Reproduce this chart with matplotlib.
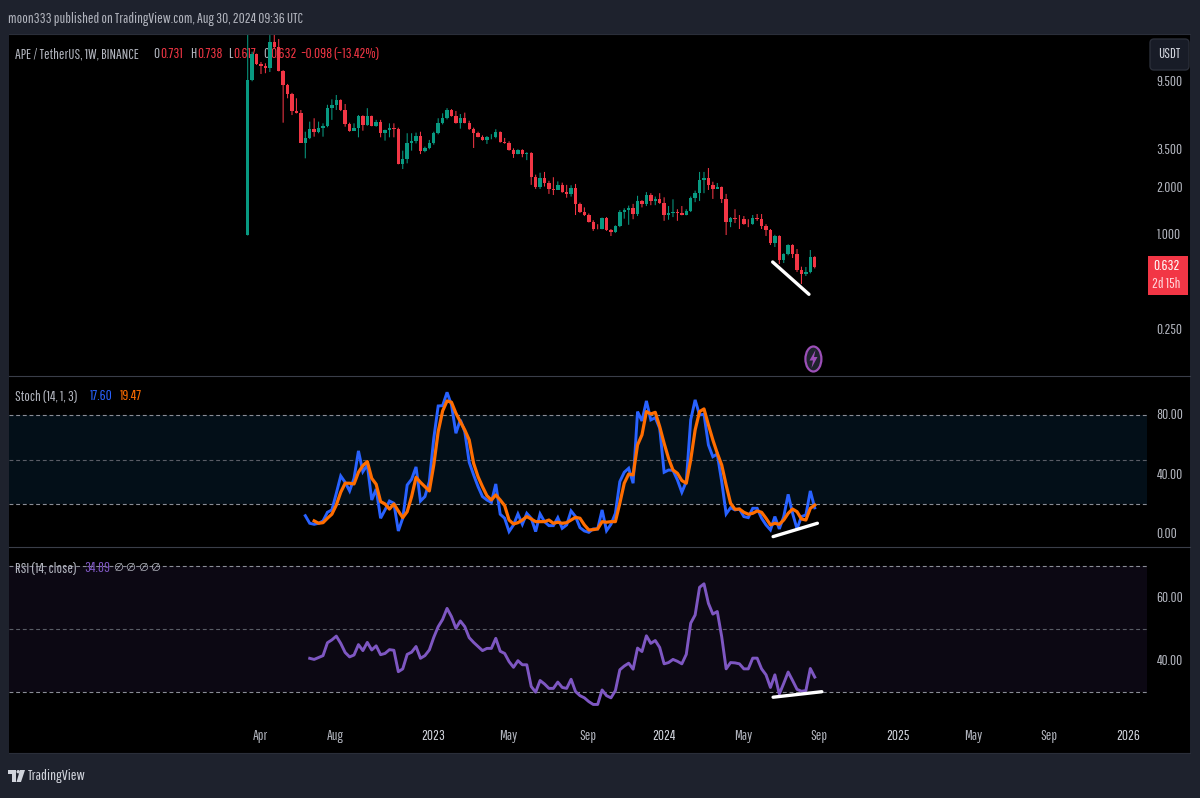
import matplotlib
matplotlib.use("Agg")
import matplotlib.pyplot as plt
import matplotlib.dates as mdates
import pandas as pd
from matplotlib.lines import Line2D
from matplotlib.patches import Ellipse, FancyBboxPatch, Polygon, Rectangle

# weekly APE/USDT candles
first_open = 1.00
closes = [9.78, 14.33, 12.37, 12.01, 11.61, 17.08, 15.80, 11.21, 9.09, 7.97, 6.21, 6.06, 3.90,
          4.16, 4.75, 4.58, 4.84, 4.96, 6.49, 6.78, 7.30, 6.30, 5.13, 4.63, 4.84, 5.77, 5.06,
          5.77, 4.98, 5.28, 4.52, 4.70, 4.82, 4.77, 2.85, 3.07, 3.90, 4.02, 4.30, 3.45, 3.61,
          3.90, 4.50, 5.21, 5.60, 6.30, 5.77, 5.21, 5.60, 5.23, 4.75, 4.52, 4.26, 4.06, 4.24,
          4.25, 4.56, 3.94, 3.88, 3.50, 3.30, 3.50, 3.30, 3.35, 2.37, 2.03, 2.32, 2.15, 1.97,
          1.95, 2.10, 1.89, 1.84, 2.01, 1.59, 1.41, 1.345, 1.22, 1.10, 1.094, 1.29, 1.084, 1.05,
          1.15, 1.41, 1.45, 1.50, 1.37, 1.66, 1.59, 1.81, 1.66, 1.71, 1.61, 1.35, 1.39, 1.41,
          1.39, 1.35, 1.43, 1.73, 1.86, 2.26, 2.32, 2.10, 1.98, 2.04, 1.71, 1.22, 1.29, 1.28,
          1.27, 1.18, 1.177, 1.29, 1.27, 1.15, 1.084, 0.896, 0.993, 0.698, 0.762, 0.870, 0.762,
          0.603, 0.569, 0.586, 0.731, 0.632]
highs = [39.4, 14.8, 14.4, 12.74, 12.5, 18.9, 19.2, 17.85, 11.3, 9.23, 8.10, 7.48, 6.3, 4.58,
         5.31, 5.58, 5.31, 5.18, 6.8, 7.36, 7.85, 7.36, 6.88, 5.23, 5.18, 5.85, 5.83, 6.47,
         5.80, 5.45, 5.45, 4.72, 5.18, 5.18, 4.86, 3.47, 4.48, 4.48, 4.52, 4.58, 3.68, 4.06,
         4.58, 5.58, 6.0, 6.47, 6.38, 6.21, 5.94, 6.06, 5.38, 4.86, 4.58, 4.34, 4.30, 4.42,
         4.75, 4.60, 4.18, 3.98, 3.59, 3.54, 3.54, 3.39, 3.39, 2.44, 2.51, 2.54, 2.23, 2.35,
         2.21, 2.17, 2.10, 2.09, 2.13, 1.62, 1.51, 1.38, 1.25, 1.18, 1.30, 1.31, 1.10, 1.16,
         1.45, 1.49, 1.55, 1.59, 1.79, 1.68, 1.89, 1.86, 1.77, 1.86, 1.75, 1.54, 1.70, 1.47,
         1.54, 1.47, 1.77, 1.93, 2.54, 2.54, 2.69, 2.20, 2.16, 2.05, 1.84, 1.31, 1.47, 1.35,
         1.33, 1.27, 1.35, 1.37, 1.37, 1.18, 1.10, 1.01, 1.003, 0.770, 0.879, 0.879, 0.820,
         0.633, 0.630, 0.808, 0.738]
lows = [1.00, 9.6, 12.2, 10.68, 10.8, 11.0, 15.6, 11.1, 5.23, 7.48, 5.85, 5.99, 3.88, 3.10,
        4.11, 4.26, 4.48, 4.26, 4.89, 5.45, 6.30, 6.2, 4.93, 4.58, 4.63, 4.22, 4.65, 5.0,
        4.96, 4.93, 4.22, 4.02, 4.22, 4.22, 2.84, 2.65, 2.88, 3.47, 3.86, 3.30, 3.39, 3.54,
        3.79, 4.41, 5.10, 5.49, 5.72, 5.16, 4.79, 5.18, 4.70, 3.61, 4.22, 4.02, 3.83, 4.10,
        4.16, 3.90, 3.84, 3.47, 3.12, 3.29, 3.15, 3.02, 2.10, 1.98, 1.98, 2.05, 1.84, 1.81,
        1.95, 1.87, 1.74, 1.77, 1.35, 1.39, 1.33, 1.21, 1.07, 1.095, 1.095, 1.07, 0.993, 1.04,
        1.13, 1.28, 1.17, 1.27, 1.33, 1.51, 1.54, 1.56, 1.56, 1.59, 1.24, 1.26, 1.31, 1.24,
        1.345, 1.345, 1.41, 1.63, 1.66, 1.86, 1.95, 1.71, 1.98, 1.61, 1.007, 1.13, 1.20, 1.10,
        1.17, 1.13, 1.17, 1.24, 1.10, 0.993, 0.870, 0.845, 0.658, 0.668, 0.748, 0.719, 0.586,
        0.491, 0.552, 0.574, 0.617]

# stochastic, %K from week 13, %D from week 15
stoch_k = [12.3, 7.2, 6.5, 7.2, 8.8, 14.6, 16.2, 27.4, 39.1, 34.8, 29.0, 37.5, 56.0, 42.0, 46.5,
           22.9, 30.3, 10.6, 16.2, 22.2, 20.7, 2.0, 10.6, 33.0, 36.9, 45.2, 22.2, 25.2, 35.3,
           64.5, 86.3, 86.5, 95.5, 87.0, 67.9, 76.9, 69.0, 48.3, 39.8, 31.9, 25.2, 22.9, 21.3,
           33.7, 13.3, 10.6, 1.6, 6.1, 13.5, 6.5, 13.9, 10.6, 1.6, 13.5, 8.3, 5.6, 5.6, 11.0,
           3.8, 6.1, 15.5, 11.7, 4.3, 2.0, 1.1, 3.4, 3.4, 16.2, 2.2, 6.5, 13.9, 35.3, 41.6,
           44.3, 34.2, 82.5, 76.2, 89.7, 76.9, 78.4, 71.2, 41.6, 43.1, 42.9, 36.4, 28.1, 35.3,
           76.9, 90.4, 80.2, 80.7, 60.0, 52.1, 53.9, 35.3, 13.5, 17.7, 16.2, 16.8, 11.7, 11.0,
           17.3, 17.3, 10.6, 6.1, 2.7, 11.7, 3.4, 11.7, 26.7, 13.9, 3.4, 11.7, 12.8, 29.0, 17.60]
stoch_d = [8.8, 7.2, 7.6, 10.6, 13.3, 19.5, 28.1, 34.2, 34.2, 33.7, 41.6, 46.1, 48.8, 37.5, 33.5,
           21.8, 20.2, 16.8, 20.2, 15.5, 11.0, 15.0, 25.2, 38.2, 34.8, 31.9, 29.0, 46.5, 69.0,
           82.9, 89.7, 88.8, 81.4, 75.7, 70.1, 63.4, 47.6, 38.6, 31.9, 25.8, 22.9, 26.3, 22.9,
           19.1, 9.4, 6.7, 7.6, 9.4, 11.7, 10.1, 8.3, 8.3, 8.3, 9.4, 7.2, 7.9, 7.2, 7.6, 9.4,
           11.2, 10.6, 6.1, 2.7, 2.9, 3.4, 8.3, 7.9, 8.3, 8.3, 20.7, 34.2, 40.4, 39.8, 60.0,
           66.8, 82.5, 80.9, 82.0, 72.4, 61.1, 51.0, 43.1, 40.9, 36.0, 34.2, 49.9, 70.1, 82.5,
           84.3, 73.5, 63.4, 54.4, 46.5, 33.0, 20.7, 16.6, 16.8, 14.6, 13.3, 13.9, 15.5, 14.6,
           10.6, 6.1, 7.2, 6.5, 9.4, 13.9, 16.8, 15.0, 10.1, 9.4, 17.3, 19.47]

# RSI from week 14
rsi = [40.85, 40.5, 41.1, 41.7, 45.8, 46.7, 47.9, 45.6, 42.7, 41.3, 41.9, 45.2, 43.3, 45.9, 43.5,
       44.8, 42.0, 42.4, 43.6, 43.4, 36.6, 37.5, 42.1, 42.8, 44.6, 40.85, 41.7, 43.5, 47.5, 50.9,
       53.2, 56.7, 54.1, 50.4, 52.7, 50.9, 47.4, 45.9, 44.6, 43.3, 44.0, 44.0, 47.2, 43.1, 42.4,
       39.8, 38.0, 40.1, 38.8, 38.8, 31.9, 30.1, 33.8, 32.7, 31.3, 31.3, 33.3, 31.6, 31.3, 34.2,
       30.3, 29.0, 28.3, 27.1, 26.2, 26.2, 30.8, 29.0, 28.3, 30.6, 37.2, 38.4, 39.3, 37.4, 44.1,
       43.0, 48.0, 45.6, 46.5, 44.3, 39.1, 39.5, 40.5, 39.9, 39.1, 42.1, 52.0, 54.6, 63.4, 64.5,
       58.3, 54.9, 55.7, 47.7, 37.5, 39.5, 39.4, 39.1, 37.5, 37.5, 40.9, 40.9, 37.5, 35.6, 31.6,
       35.6, 29.5, 32.9, 36.5, 33.8, 31.0, 30.4, 30.6, 37.6, 34.89]

price_ticks = [0.25, 1.0, 2.0, 3.5, 9.5]
stoch_ticks = [0, 40, 80]
stoch_levels = [20, 50, 80]
rsi_ticks = [40, 60]
rsi_levels = [30, 50, 70]

time_ticks = ["2022-04-04", "2022-08-01", "2023-01-02", "2023-05-01", "2023-09-04", "2024-01-01",
              "2024-05-06", "2024-09-02", "2025-01-06", "2025-05-05", "2025-09-01", "2026-01-05"]
time_labels = ["Apr", "Aug", "2023", "May", "Sep", "2024", "May", "Sep", "2025", "May", "Sep", "2026"]

# hand-drawn trend lines: (start week, end week, start value, end value)
price_trend = (118.5, 126.7, 0.678, 0.422)
stoch_trend = (118.6, 128.6, -1.8, 7.2)
rsi_trend = (118.6, 129.6, 28.5, 30.25)

UP = "#089981"
DOWN = "#f23645"
FRAME = "#1e222d"
GRID = "#2a2e39"
TEXT = "#b2b5be"
BLUE = "#2962ff"
ORANGE = "#ff6d00"
PURPLE = "#7e57c2"
FONT = ["Pathway Gothic One", "Fira Sans Extra Condensed", "Roboto", "DejaVu Sans"]
SIZE = 10.5

W, H = 1200, 798
plt.rcParams["font.family"] = FONT

weeks = pd.date_range("2022-03-14", periods=len(closes), freq="W-MON")
x = mdates.date2num(weeks)
opens = [first_open] + closes[:-1]
colors = [UP if c >= o else DOWN for o, c in zip(opens, closes)]
DAY_PX = 4.43 / 7


def week_x(w):
    return x[0] + w * 7


def pos(px, py):
    return px / W, 1 - py / H


def pane(top, bottom):
    ax = fig.add_axes([9 / W, 1 - bottom / H, 1138 / W, (bottom - top) / H])
    ax.set_facecolor("none")
    for spine in ax.spines.values():
        spine.set_visible(False)
    ax.set_xlim(x[0] - 238.7 / DAY_PX, x[0] + 899.3 / DAY_PX)
    ax.set_xticks([])
    ax.yaxis.tick_right()
    ax.tick_params(axis="y", length=0, pad=7, labelcolor=TEXT, labelsize=SIZE)
    return ax


def label(px, py, s, color=TEXT, size=SIZE, ha="left", weight="normal", ax=None, zorder=5):
    owner = ax if ax is not None else fig
    return owner.text(*pos(px, py), s, color=color, fontsize=size, ha=ha, va="center",
                      fontweight=weight, transform=fig.transFigure, zorder=zorder)


def hline(py, x0=9, x1=1190, color=GRID, lw=0.8):
    fig.add_artist(Line2D([x0 / W, x1 / W], [1 - py / H] * 2, color=color, lw=lw, zorder=4))


fig = plt.figure(figsize=(W / 100, H / 100), dpi=100, facecolor=FRAME)
fig.add_artist(Rectangle(pos(9, 753), 1181 / W, 719 / H, facecolor="black", edgecolor="none",
                         transform=fig.transFigure, zorder=-1))

# price pane
ax_price = pane(34, 375.5)
ax_price.set_yscale("log")
ax_price.set_ylim(0.1283, 19.2)
ax_price.set_xlim(x[0] - 238.7 / DAY_PX, x[0] + 899.3 / DAY_PX)
ax_price.set_yticks(price_ticks)
ax_price.set_yticklabels([f"{t:.3f}" for t in price_ticks])
ax_price.minorticks_off()
wicks = ax_price.vlines(x, lows, highs, colors=colors, lw=0.75, zorder=3)
wicks.set_snap(False)
bottoms = [min(o, c) for o, c in zip(opens, closes)]
heights = [abs(o - c) for o, c in zip(opens, closes)]
ax_price.bar(x, heights, bottom=bottoms, width=3.4 / DAY_PX, color=colors, lw=0, zorder=4)
ax_price.plot([week_x(price_trend[0]), week_x(price_trend[1])], price_trend[2:], color="white",
              lw=2.4, solid_capstyle="round", zorder=6)

# stochastic pane
ax_stoch = pane(376, 547)
ax_stoch.set_ylim(-8.8, 106.5)
ax_stoch.set_yticks(stoch_ticks)
ax_stoch.set_yticklabels([f"{t:.2f}" for t in stoch_ticks])
ax_stoch.axhspan(stoch_levels[0], stoch_levels[2], color="#2196f3", alpha=0.1, lw=0)
for level, shade in zip(stoch_levels, ["#8a8d96", "#5a5d66", "#8a8d96"]):
    ax_stoch.axhline(level, color=shade, lw=0.8, dashes=(3.5, 2.5))
ax_stoch.plot(x[13:], stoch_k, color=BLUE, lw=2.1, solid_joinstyle="miter", zorder=3)
ax_stoch.plot(x[15:], stoch_d, color=ORANGE, lw=2.3, solid_joinstyle="round", zorder=4)
ax_stoch.plot([week_x(stoch_trend[0]), week_x(stoch_trend[1])], stoch_trend[2:], color="white",
              lw=2.4, solid_capstyle="round", zorder=6)

# RSI pane with the time scale under it
ax_rsi = pane(547, 722)
ax_rsi.set_ylim(20.63, 76.19)
ax_rsi.set_yticks(rsi_ticks)
ax_rsi.set_yticklabels([f"{t:.2f}" for t in rsi_ticks])
ax_rsi.axhspan(rsi_levels[0], rsi_levels[2], color=PURPLE, alpha=0.1, lw=0)
for level, shade in zip(rsi_levels, ["#8a8d96", "#5a5d66", "#8a8d96"]):
    ax_rsi.axhline(level, color=shade, lw=0.8, dashes=(3.5, 2.5))
ax_rsi.plot(x[14:], rsi, color=PURPLE, lw=2.1, solid_joinstyle="round", zorder=3)
ax_rsi.plot([week_x(rsi_trend[0]), week_x(rsi_trend[1])], rsi_trend[2:], color="white",
            lw=2.4, solid_capstyle="round", zorder=6)
ax_rsi.set_xticks(mdates.date2num(pd.to_datetime(time_ticks)) - 1)
ax_rsi.set_xticklabels(time_labels)
ax_rsi.tick_params(axis="x", length=0, pad=5, labelcolor=TEXT, labelsize=SIZE)
for tick in ax_rsi.get_xticklabels():
    if tick.get_text().isdigit():
        tick.set_fontweight("bold")
        tick.set_color("#d1d4dc")
for ax in (ax_price, ax_stoch, ax_rsi):
    for tick in ax.get_yticklabels():
        tick.set_verticalalignment("center")

# frame lines
hline(34)
hline(753)
hline(375.5, color="#3a3e49")
hline(547, color="#3a3e49")

# header and legends
label(8, 19, "moon333 published on TradingView.com, Aug 30, 2024 09:36 UTC")
label(15, 54, "APE / TetherUS, 1W, BINANCE", ax=ax_price, zorder=1)
for px, key, px2, val in [(153, "O", 160, "0.731"), (190, "H", 197, "0.738"),
                          (228, "L", 233, "0.617"), (263, "C", 270, "0.632")]:
    label(px, 54, key, ax=ax_price, zorder=1)
    label(px2, 54, val, DOWN, ax=ax_price, zorder=1)
label(300, 54, "\u22120.098", DOWN, ax=ax_price, zorder=1)
label(333, 54, "(\u221213.42%)", DOWN, ax=ax_price, zorder=1)

label(15, 396, "Stoch (14, 1, 3)")
label(90, 396, "17.60", BLUE)
label(120, 396, "19.47", ORANGE)
label(15, 568, "RSI (14, close)")
label(84, 568, "34.89", PURPLE)
for px in [118, 130, 143, 155.5]:
    label(px, 568, "\u2205", TEXT, size=8, ha="center")

# currency button and last price tag
fig.add_artist(FancyBboxPatch((1152, H - 68), 35, 27, boxstyle="round,pad=2,rounding_size=4",
                              facecolor="#181c27", edgecolor=GRID, lw=1,
                              transform=None, zorder=4))
label(1169, 54, "USDT", "#d1d4dc", ha="center")
fig.add_artist(Rectangle(pos(1148, 295), 40 / W, 39 / H, facecolor=DOWN, edgecolor="none",
                         transform=fig.transFigure, zorder=4))
label(1166, 266.5, "0.632", "white", ha="center", weight="bold")
label(1166, 284, "2d 15h", "#ffd5da", ha="center")

# lightning badge
fig.add_artist(Ellipse((813.4, H - 359), 16, 25, facecolor=FRAME, edgecolor="#9c4fb8", lw=1.6,
                       transform=None, zorder=4))
bolt = [(815.5, 350), (809.5, 360.5), (813, 360.5), (811.5, 368), (817.5, 357), (814, 357)]
fig.add_artist(Polygon([(a, H - b) for a, b in bolt], closed=True, facecolor="#9c4fb8",
                       edgecolor="none", transform=None, zorder=5))

# TradingView mark in the footer
logo_t = [(8.3, 770), (16, 770), (16, 782), (12, 782), (12, 774), (8.3, 774)]
logo_v = [(20, 770), (25, 770), (21, 782), (16.5, 782)]
for shape in (logo_t, logo_v):
    fig.add_artist(Polygon([(a, H - b) for a, b in shape], closed=True, facecolor="#d1d4dc",
                           edgecolor="none", transform=None, zorder=5))
fig.add_artist(Ellipse((18.2, H - 771.7), 3.4, 3.4, facecolor="#d1d4dc", edgecolor="none",
                       transform=None, zorder=5))
label(28, 776, "TradingView", "#d1d4dc", 11)

fig.savefig("out.png", dpi=100, facecolor=fig.get_facecolor())
plt.close(fig)
